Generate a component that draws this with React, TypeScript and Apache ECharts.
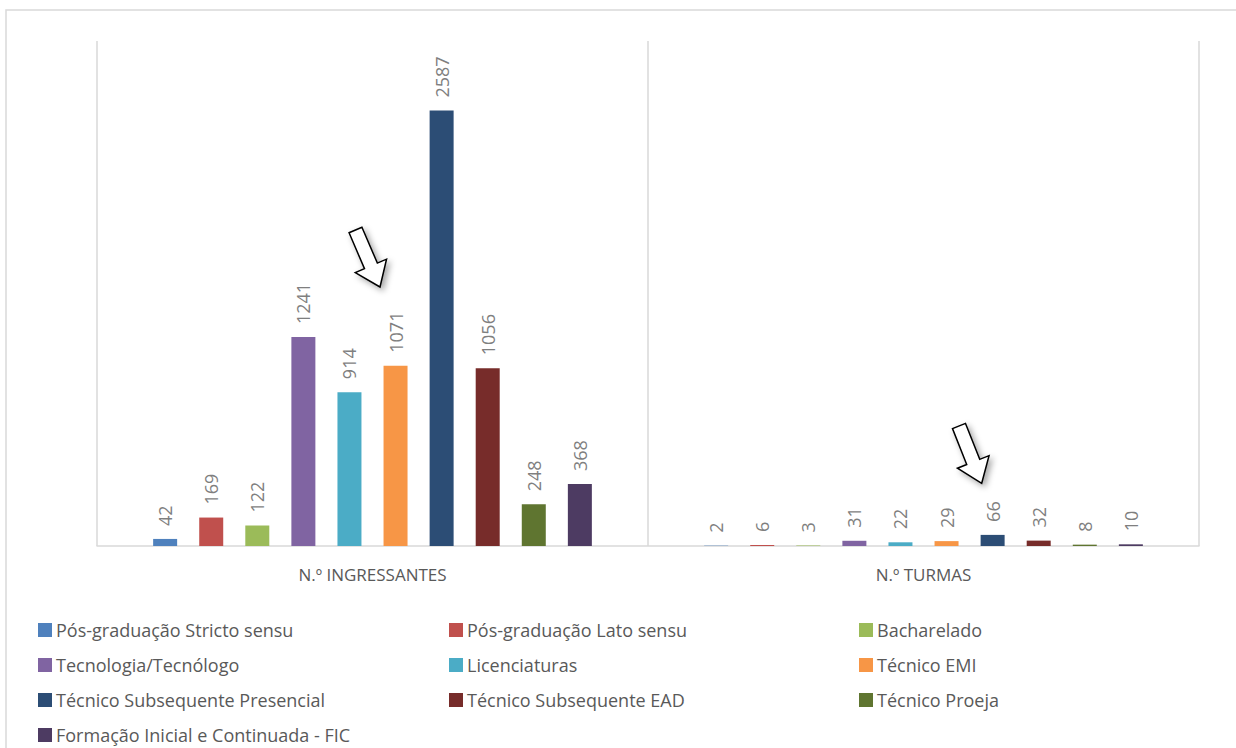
import React, { useEffect, useRef } from "react";
import * as echarts from "echarts";

const categories = ["N.º INGRESSANTES", "N.º TURMAS"];
const seriesNames = [
  "Pós-graduação Stricto sensu",
  "Pós-graduação Lato sensu",
  "Bacharelado",
  "Tecnologia/Tecnólogo",
  "Licenciaturas",
  "Técnico EMI",
  "Técnico Subsequente Presencial",
  "Técnico Subsequente EAD",
  "Técnico Proeja",
  "Formação Inicial e Continuada - FIC",
];
const ingressantes = [42, 169, 122, 1241, 914, 1071, 2587, 1056, 248, 368];
const turmas = [2, 6, 3, 31, 22, 29, 66, 32, 8, 10];
const colors = [
  "#4F81BD",
  "#C0504D",
  "#9BBB59",
  "#8064A2",
  "#4BACC6",
  "#F79646",
  "#2C4D75",
  "#772C2A",
  "#5F7530",
  "#4D3B62",
];

const FONT = "'Open Sans', 'Noto Sans', sans-serif";

function arrowPoints(tail: [number, number], tip: [number, number]) {
  const dx = tip[0] - tail[0];
  const dy = tip[1] - tail[1];
  const len = Math.sqrt(dx * dx + dy * dy);
  const ux = dx / len;
  const uy = dy / len;
  const px = -uy;
  const py = ux;
  const shaftHalf = 7;
  const headLen = 23;
  const headHalf = 17;
  const local: [number, number][] = [
    [0, -shaftHalf],
    [len - headLen, -shaftHalf],
    [len - headLen, -headHalf],
    [len, 0],
    [len - headLen, headHalf],
    [len - headLen, shaftHalf],
    [0, shaftHalf],
  ];
  return local.map(([a, b]) => [tail[0] + ux * a + px * b, tail[1] + uy * a + py * b]);
}

function arrowGraphic(tail: [number, number], tip: [number, number]) {
  return {
    type: "polygon",
    shape: { points: arrowPoints(tail, tip) },
    style: {
      fill: "#ffffff",
      stroke: "#000000",
      lineWidth: 1.5,
      shadowBlur: 6,
      shadowColor: "rgba(0,0,0,0.35)",
      shadowOffsetX: 3,
      shadowOffsetY: 3,
    },
    z: 100,
  };
}

export default function App() {
  const ref = useRef<HTMLDivElement>(null);
  useEffect(() => {
    if (!ref.current) return;
    const chart = echarts.init(ref.current, undefined, { renderer: "svg" });
    const series = seriesNames.map((name, i) => ({
      name,
      type: "bar",
      data: [ingressantes[i], turmas[i]],
      barWidth: 24,
      barGap: "92%",
      itemStyle: { color: colors[i] },
      label: {
        show: true,
        position: "top",
        rotate: 90,
        align: "left",
        verticalAlign: "middle",
        distance: 13,
        color: "#7f7f7f",
        fontSize: 18,
        fontFamily: FONT,
      },
    }));
    // legend layout: columns and rows as in the reference
    const groups = [
      { idx: [0, 3, 6], left: 38, top: 620 },
      { idx: [9], left: 38, top: 725 },
      { idx: [1, 4, 7], left: 449, top: 620 },
      { idx: [2, 5, 8], left: 859, top: 620 },
    ];
    const legends = groups.map((g) => ({
      orient: "vertical",
      left: g.left,
      top: g.top,
      padding: 0,
      itemWidth: 14,
      itemHeight: 14,
      itemGap: 15,
      icon: "rect",
      data: g.idx.map((k) => seriesNames[k]),
      textStyle: {
        color: "#595959",
        fontSize: 18,
        fontFamily: FONT,
        lineHeight: 20,
        padding: [0, 0, 0, -1],
      },
      selectedMode: false,
    }));
    chart.setOption({
      animation: false,
      backgroundColor: "#ffffff",
      grid: { left: 97, right: 37, top: 41, bottom: 202 },
      legend: legends,
      xAxis: {
        type: "category",
        data: categories,
        axisLine: { lineStyle: { color: "#d9d9d9", width: 1.5 } },
        axisTick: { show: false },
        splitLine: { show: true, lineStyle: { color: "#d9d9d9", width: 1.5 } },
        axisLabel: {
          color: "#595959",
          fontSize: 17,
          fontFamily: FONT,
          margin: 20,
        },
      },
      yAxis: {
        type: "value",
        min: 0,
        max: 3000,
        show: false,
        splitLine: { show: false },
      },
      series,
      graphic: [
        {
          type: "rect",
          shape: { x: 6, y: 10, width: 1260, height: 760 },
          style: { fill: "none", stroke: "#d9d9d9", lineWidth: 1.5 },
          silent: true,
        },
        arrowGraphic([355.5, 230], [380, 287]),
        arrowGraphic([959, 426], [981.7, 483.3]),
      ],
    });
    return () => chart.dispose();
  }, []);
  return (
    <div
      ref={ref}
      style={{ position: "fixed", left: 0, top: 0, width: 1236, height: 748 }}
    />
  );
}
